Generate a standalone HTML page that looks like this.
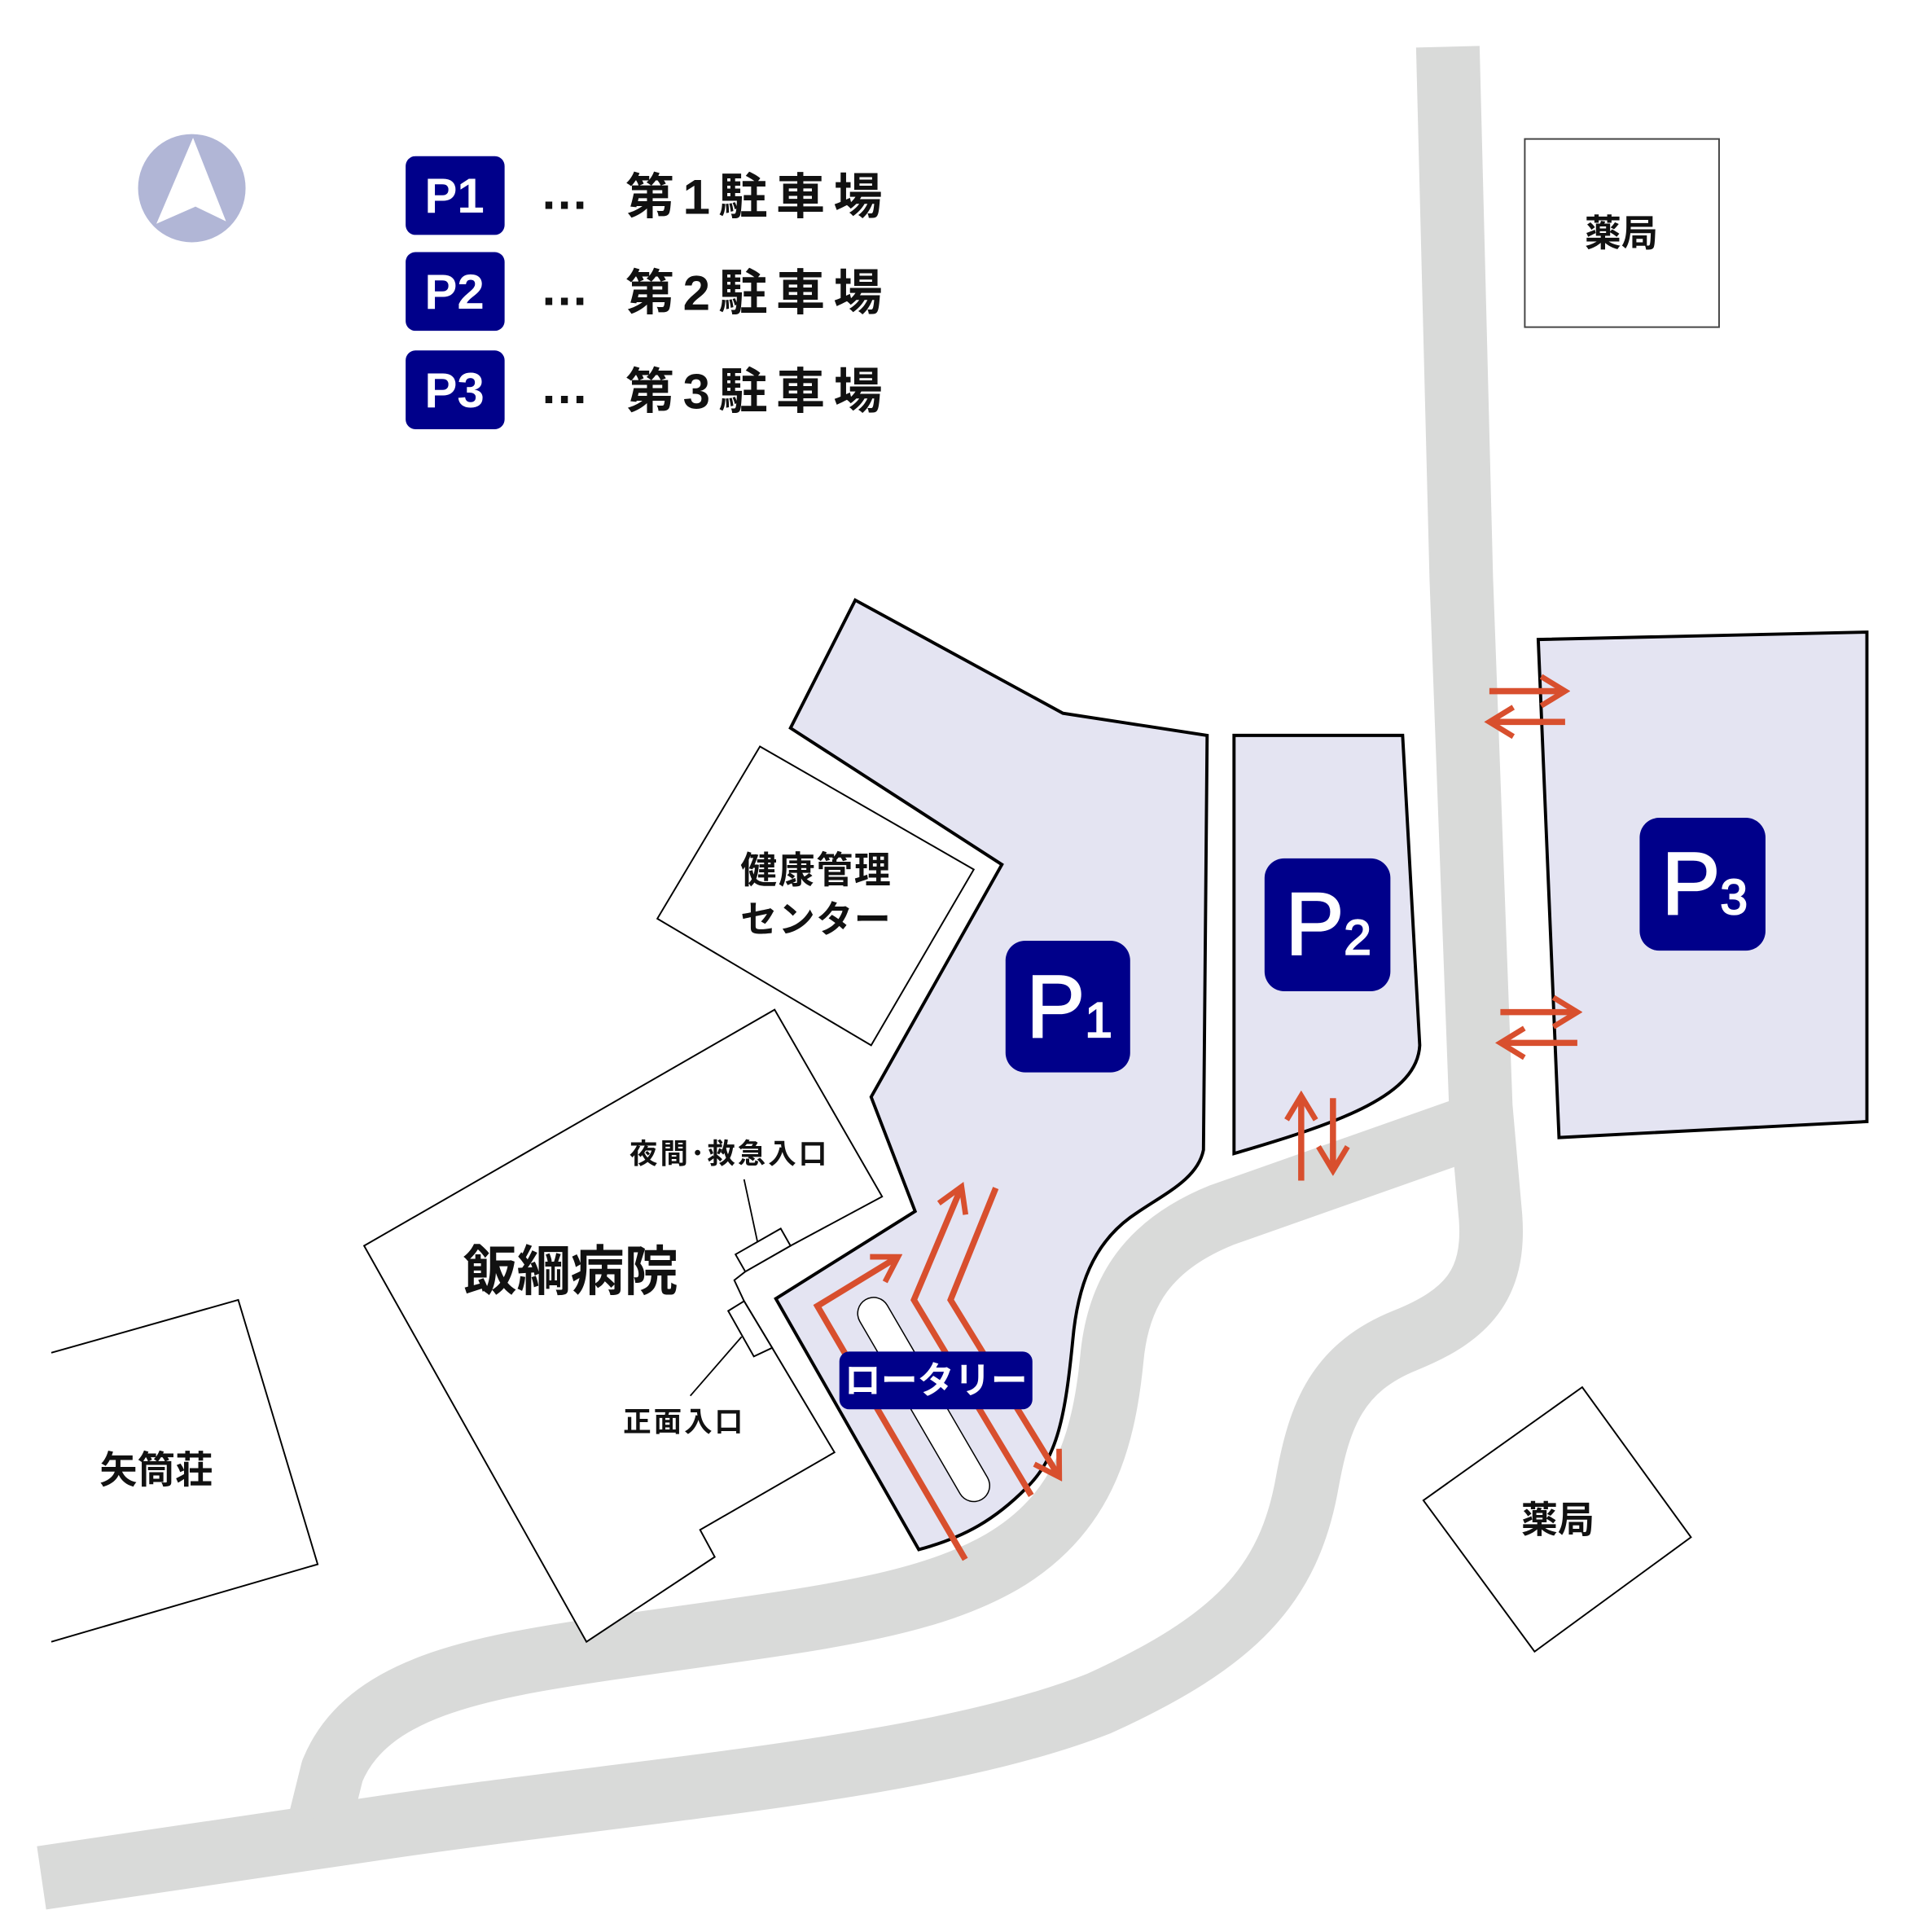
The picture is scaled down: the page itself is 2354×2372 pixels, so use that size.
<!DOCTYPE html>
<html><head><meta charset="utf-8">
<style>
html,body{margin:0;padding:0;background:#fff;}
svg{display:block;}
text{font-family:"Liberation Sans","Noto Sans CJK JP",sans-serif;}
</style></head>
<body>
<svg width="2354" height="2372" viewBox="0 0 1569 1571" preserveAspectRatio="none" xmlns="http://www.w3.org/2000/svg">
<defs>
<marker id="ah" viewBox="0 0 20 20" refX="17" refY="10" markerWidth="28" markerHeight="28" markerUnits="userSpaceOnUse" orient="auto">
<path d="M3,1.5 L17,10 L3,18.5" fill="none" stroke="#d84f2e" stroke-width="3.2"/>
</marker>
</defs>
<rect width="1569" height="1571" fill="#fff"/>

<g fill="none" stroke="#d9dad9" stroke-width="52" stroke-linejoin="round">
<path d="M1185,38 L1196,470 L1212,900 L1220,990 C1224,1045 1200,1070 1150,1090 C1095,1112 1080,1150 1070,1205 C1055,1290 1010,1335 900,1385 C760,1440 520,1455 300,1488 L34,1527"/>
<path d="M1200,918 L1000,988 C940,1012 915,1050 910,1105 C903,1175 885,1232 820,1270 C750,1310 650,1318 500,1340 C390,1356 300,1372 272,1440 L262,1480"/>
</g>

<g fill="#e4e4f2" stroke="#000" stroke-width="2.6" stroke-linejoin="miter">
<path d="M700,488 L870,580 L988,598 L985,935 C980,960 950,972 925,990 C895,1012 882,1045 878,1090 C872,1150 866,1185 840,1210 C815,1235 790,1250 752,1260 L635,1056 L749,985 L713,892 L820,703 L647,592 Z"/>
<path d="M1010,598 L1148,598 L1162,850 C1160,890 1100,912 1010,938 Z"/>
<path d="M1259,520 L1528,514 L1528,912 L1276,925 Z"/>
</g>

<line x1="715" y1="1068" x2="797" y2="1208" stroke="#000" stroke-width="27" stroke-linecap="round"/>
<line x1="715" y1="1068" x2="797" y2="1208" stroke="#fff" stroke-width="25" stroke-linecap="round"/>

<g fill="#fff" stroke="#000" stroke-width="1.3">
<polygon points="622,607 797,707 713,850 538,747"/>
<polygon points="298,1013 634,821 722,973 647,1013 610,1034 601,1041 609,1058 632,1096 683,1181 573,1244 585,1266 480,1335"/>
<polygon points="647,1013 639,999 602,1020 610,1034"/>
<polygon points="609,1058 596,1066 617,1103 632,1096"/>
<polyline points="42,1100 195,1057 260,1272 42,1335" fill="none"/>
<rect x="1248" y="113" width="159" height="153" stroke="#444"/>
<polygon points="1165,1220 1295,1128 1384,1250 1256,1343"/>
</g>
<g stroke="#000" stroke-width="1.2">
<line x1="609" y1="959" x2="620" y2="1010"/>
<line x1="607" y1="1087" x2="565" y2="1135"/>
</g>

<g fill="none" stroke="#d84f2e" stroke-width="5" stroke-linejoin="miter">
<polyline points="790,1268 669,1062 735,1022" marker-end="url(#ah)"/>
<polyline points="844,1216 748,1057 787,965" marker-end="url(#ah)"/>
<polyline points="815,966 778,1057 867,1201" marker-end="url(#ah)"/>
<line x1="1219" y1="562" x2="1281" y2="562" marker-end="url(#ah)"/>
<line x1="1281" y1="587" x2="1219" y2="587" marker-end="url(#ah)"/>
<line x1="1228" y1="823" x2="1291" y2="823" marker-end="url(#ah)"/>
<line x1="1291" y1="848" x2="1228" y2="848" marker-end="url(#ah)"/>
<line x1="1065" y1="960" x2="1065" y2="891" marker-end="url(#ah)"/>
<line x1="1091" y1="893" x2="1091" y2="952" marker-end="url(#ah)"/>
</g>

<rect x="687" y="1099" width="158" height="47" rx="8" fill="#00008a"/>
<text x="766" y="1133" font-size="30" font-weight="bold" fill="#fff" text-anchor="middle">ロータリー</text>

<g fill="#00008a">
<rect x="823" y="765" width="102" height="107" rx="16"/>
<rect x="1035" y="698" width="103" height="108" rx="16"/>
<rect x="1342" y="665" width="103" height="108" rx="16"/>
</g>
<g fill="#fff" stroke="#fff" stroke-width="1.5">
<text x="840" y="843" font-size="72">P<tspan font-size="40">1</tspan></text>
<text x="1052" y="776" font-size="72">P<tspan font-size="40">2</tspan></text>
<text x="1360" y="743" font-size="72">P<tspan font-size="40">3</tspan></text>
</g>

<g fill="#111" font-weight="bold">
<text x="668" y="718" font-size="30" text-anchor="middle" letter-spacing="1">健康管理</text>
<text x="668" y="758" font-size="30" text-anchor="middle" letter-spacing="1">センター</text>
<text x="597" y="946" font-size="23" text-anchor="middle" letter-spacing="2">夜間･救急入口</text>
<text x="467" y="1049" font-size="44" text-anchor="middle">飯綱病院</text>
<text x="560" y="1164" font-size="23" text-anchor="middle" letter-spacing="2">正面入口</text>
<text x="128" y="1206" font-size="31" text-anchor="middle">矢筒荘</text>
<text x="1327" y="200" font-size="30" text-anchor="middle">薬局</text>
<text x="1275" y="1246" font-size="30" text-anchor="middle">薬局</text>
</g>

<circle cx="157" cy="153" r="44" fill="#b1b6d6"/>
<polygon points="158,112 128,182 160,168 185,180" fill="#fff"/>

<g fill="#00008a">
<rect x="332" y="127" width="81" height="64" rx="8"/>
<rect x="332" y="205" width="81" height="64" rx="8"/>
<rect x="332" y="285" width="81" height="64" rx="8"/>
</g>
<g fill="#fff" font-size="40" font-weight="bold" text-anchor="middle">
<text x="372" y="173">P1</text>
<text x="372" y="251">P2</text>
<text x="372" y="331">P3</text>
</g>
<g fill="#111" font-size="40" font-weight="bold">
<text x="442" y="170">…</text>
<text x="442" y="248">…</text>
<text x="442" y="328">…</text>
<text x="512" y="174" letter-spacing="7">第1駐車場</text>
<text x="512" y="252" letter-spacing="7">第2駐車場</text>
<text x="512" y="332" letter-spacing="7">第3駐車場</text>
</g>
</svg>
</body></html>
